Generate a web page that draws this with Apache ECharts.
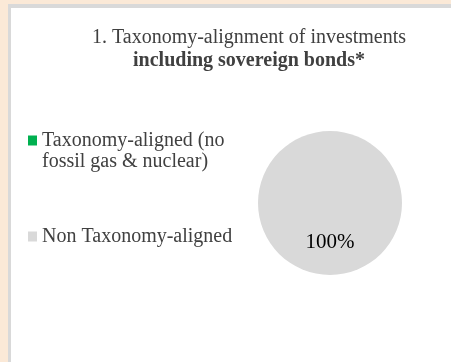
<!DOCTYPE html>
<html>
<head>
<meta charset="utf-8">
<script src="https://cdn.jsdelivr.net/npm/echarts@6/dist/echarts.min.js"></script>
<style>
  html, body { margin: 0; padding: 0; background: #fbe9d7; }
  #frame {
    position: absolute; left: 8px; top: 4px; right: 0; bottom: 0;
    background: #ffffff;
    border-left: 3px solid #d9d9d9;
    border-top: 4px solid #d9d9d9;
  }
  #chart { position: absolute; left: 0; top: 0; width: 451px; height: 362px; }
</style>
</head>
<body>
<div id="frame"></div>
<div id="chart"></div>
<script>
// Share of investments by taxonomy alignment (%)
const categories = ['Taxonomy-aligned (no\nfossil gas & nuclear)', 'Non Taxonomy-aligned'];
const shares = [0, 100];
const colors = ['#00b050', '#d9d9d9'];
const titleLines = ['1. Taxonomy-alignment of investments', 'including sovereign bonds*'];

const serif = '"Liberation Serif", "Times New Roman", serif';
const textGrey = '#404040';

const chart = echarts.init(document.getElementById('chart'), null, { renderer: 'canvas' });

const legendBase = {
  orient: 'vertical',
  left: 28,
  padding: 0,
  icon: 'rect',
  itemWidth: 9,
  itemHeight: 10,
  itemGap: 0,
  selectedMode: false,
  textStyle: { fontFamily: serif, fontSize: 20, color: textGrey, lineHeight: 21 }
};

chart.setOption({
  animation: false,
  backgroundColor: 'transparent',
  color: colors,
  title: {
    left: 249,
    top: 26,
    padding: 0,
    textAlign: 'center',
    text: '{a|' + titleLines[0] + '}\n{b|' + titleLines[1] + '}',
    textStyle: {
      fontWeight: 'normal',
      rich: {
        a: { fontFamily: serif, fontSize: 20, fontWeight: 'normal', color: textGrey, lineHeight: 23 },
        b: { fontFamily: serif, fontSize: 20, fontWeight: 'bold', color: textGrey, lineHeight: 23 }
      }
    }
  },
  legend: [
    Object.assign({}, legendBase, {
      top: 109,
      data: [categories[0]],
      // leading blank line keeps the first text line level with the swatch
      formatter: name => '\n' + name
    }),
    Object.assign({}, legendBase, {
      top: 226,
      data: [categories[1]]
    })
  ],
  series: [{
    type: 'pie',
    center: [330, 203],
    radius: 72,
    startAngle: 90,
    silent: true,
    label: {
      show: true,
      position: 'inside',
      fontFamily: serif,
      fontSize: 21,
      color: '#000000',
      formatter: p => (p.value > 0 ? p.value + '%' : '')
    },
    labelLine: { show: false },
    data: categories.map((name, i) => ({ name: name, value: shares[i] }))
  }]
});
</script>
</body>
</html>
